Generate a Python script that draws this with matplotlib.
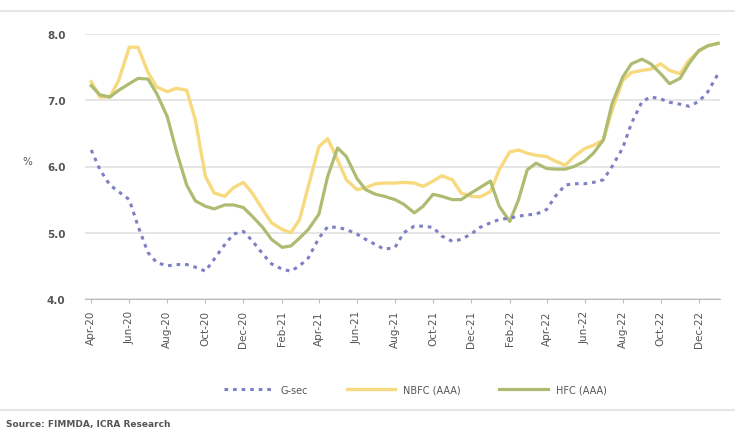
import numpy as np
import pandas as pd
import matplotlib
matplotlib.use("Agg")
import matplotlib.pyplot as plt
import matplotlib.dates as mdates
from matplotlib.lines import Line2D

# semi-monthly observations (1st and 15th)
dates = pd.date_range("2020-04-01", periods=67, freq="SMS")

gsec = [6.25, 5.95, 5.72, 5.62, 5.50, 5.10, 4.70, 4.55, 4.50, 4.52, 4.52, 4.48, 4.42, 4.60,
        4.82, 4.98, 5.02, 4.88, 4.68, 4.53, 4.45, 4.42, 4.50, 4.62, 4.92, 5.09, 5.08, 5.05,
        4.98, 4.90, 4.82, 4.75, 4.78, 5.00, 5.10, 5.10, 5.08, 4.95, 4.87, 4.90, 4.98, 5.08,
        5.15, 5.20, 5.22, 5.25, 5.27, 5.28, 5.35, 5.55, 5.72, 5.74, 5.74, 5.76, 5.80, 6.00,
        6.28, 6.65, 6.98, 7.05, 7.02, 6.97, 6.94, 6.91, 6.98, 7.12, 7.40]

nbfc = [7.28, 7.05, 7.05, 7.30, 7.80, 7.80, 7.42, 7.20, 7.13, 7.18, 7.15, 6.70, 5.85, 5.60,
        5.55, 5.68, 5.76, 5.60, 5.35, 5.15, 5.05, 5.00, 5.20, 5.70, 6.30, 6.42, 6.10, 5.80,
        5.65, 5.68, 5.74, 5.75, 5.75, 5.76, 5.75, 5.70, 5.78, 5.86, 5.80, 5.60, 5.55, 5.54,
        5.62, 5.95, 6.22, 6.25, 6.20, 6.17, 6.15, 6.08, 6.02, 6.15, 6.27, 6.32, 6.40, 6.85,
        7.30, 7.42, 7.45, 7.47, 7.55, 7.45, 7.40, 7.60, 7.74, 7.82, 7.86]

hfc = [7.22, 7.08, 7.05, 7.15, 7.25, 7.33, 7.32, 7.10, 6.75, 6.25, 5.72, 5.48, 5.40, 5.36,
       5.42, 5.42, 5.38, 5.25, 5.08, 4.90, 4.78, 4.80, 4.92, 5.05, 5.28, 5.85, 6.28, 6.15,
       5.82, 5.65, 5.58, 5.55, 5.50, 5.43, 5.30, 5.40, 5.58, 5.55, 5.50, 5.50, 5.60, 5.68,
       5.78, 5.40, 5.17, 5.50, 5.95, 6.05, 5.97, 5.96, 5.96, 6.00, 6.08, 6.20, 6.40, 6.95,
       7.35, 7.55, 7.62, 7.55, 7.40, 7.25, 7.33, 7.55, 7.75, 7.82, 7.86]

yticks = [4.0, 5.0, 6.0, 7.0, 8.0]

fig = plt.figure(figsize=(7.35, 4.31), dpi=100)
ax = fig.add_axes([85 / 735, 1 - 300 / 431, 635 / 735, 265 / 431])

ax.plot(dates, gsec, color="#7D80C4", lw=2.2, ls=(0, (1.2, 1.6)), label="G-sec", zorder=3)
ax.plot(dates, nbfc, color="#F7D97E", lw=2.4, label="NBFC (AAA)", zorder=2)
ax.plot(dates, hfc, color="#AEBC72", lw=2.3, label="HFC (AAA)", zorder=2)

ax.set_ylim(4.0, 8.0)
ax.set_yticks(yticks)
ax.set_yticklabels(["%.1f" % v for v in yticks])
ax.set_xlim(dates[0] - pd.Timedelta(days=10), dates[-1] + pd.Timedelta(days=3))
ax.xaxis.set_major_locator(mdates.MonthLocator(bymonth=[2, 4, 6, 8, 10, 12]))
ax.xaxis.set_major_formatter(mdates.DateFormatter("%b-%y"))
plt.setp(ax.get_xticklabels(), rotation=90)

ax.grid(axis="y", color="#E2E2E2", lw=1.2)
ax.set_axisbelow(True)
for s in ["top", "right", "left"]:
    ax.spines[s].set_visible(False)
ax.spines["bottom"].set_color("#BDBDBD")
ax.tick_params(axis="y", length=0, pad=14, labelsize=7.5, labelcolor="#555555")
ax.tick_params(axis="x", length=3, color="#BDBDBD", labelsize=7.5, labelcolor="#555555",
               pad=5)
for t in ax.get_yticklabels():
    t.set_fontweight("bold")

ax.set_ylabel("%", rotation=0, fontsize=7.5, color="#555555", labelpad=14)

ax.legend(loc="upper center", bbox_to_anchor=(0.52, -0.29), ncol=3, frameon=False,
          fontsize=7, handlelength=5, columnspacing=4, labelcolor="#555555")

fig.add_artist(Line2D([0, 1], [1 - 12 / 431, 1 - 12 / 431], color="#E6E6E6", lw=1.5))
fig.add_artist(Line2D([0, 1], [1 - 411 / 431, 1 - 411 / 431], color="#E6E6E6", lw=1.5))
fig.text(0.008, 1 - 425 / 431, "Source: FIMMDA, ICRA Research", fontsize=6.5,
         color="#555555", fontweight="bold", va="center")

fig.savefig("out.png", dpi=100)
